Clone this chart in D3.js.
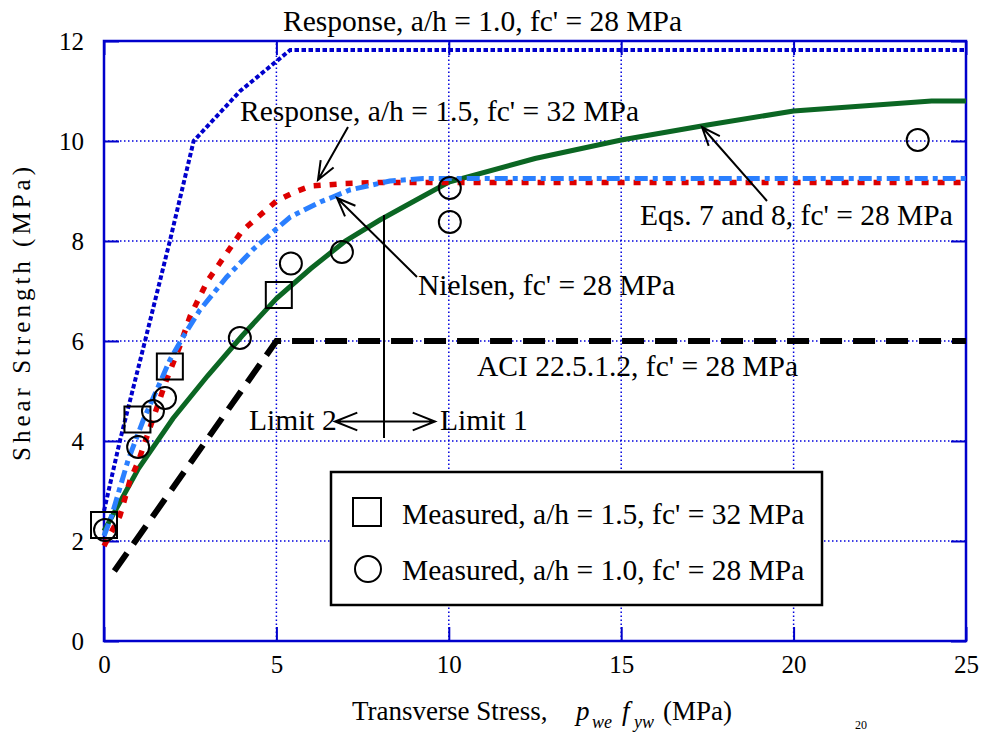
<!DOCTYPE html>
<html>
<head>
<meta charset="utf-8">
<script src="https://cdn.jsdelivr.net/npm/d3@7"></script>
<style>
  body { margin: 0; background: #fff; }
  svg text { font-family: "Liberation Serif", "Times New Roman", serif; fill: #000; }
</style>
</head>
<body>
<div id="chart"></div>
<script>
// series, [transverse stress (MPa), shear strength (MPa)]
const response10 = [[0, 2.6], [0.46, 4], [1.19, 6], [1.91, 8], [2.6, 10], [3.95, 11.0], [5.4, 11.82], [25, 11.82]];
const response15 = [[0, 1.9], [0.46, 2.5], [0.75, 3.2], [1.0, 3.6], [1.3, 4.2], [1.8, 5.2], [2.2, 5.9], [2.5, 6.5],
  [3.0, 7.2], [3.5, 7.7], [4.0, 8.2], [4.5, 8.5], [5.0, 8.8], [5.5, 8.97], [6.0, 9.1], [7.0, 9.15], [8.0, 9.17], [25, 9.17]];
const nielsen = [[0, 2.1], [0.22, 2.5], [0.52, 3.2], [0.7, 3.62], [1.14, 4.42], [1.62, 5.16], [1.91, 5.62], [2.29, 6.08],
  [2.78, 6.62], [3.56, 7.28], [4.35, 7.85], [5.4, 8.48], [6.27, 8.78], [6.6, 8.87], [7.13, 9.02], [8.29, 9.2], [9.25, 9.25], [25, 9.25]];
const eqs78 = [[0, 2.2], [1, 3.45], [2, 4.45], [3, 5.3], [4, 6.1], [5, 6.85], [6, 7.45], [7, 8.0], [8, 8.42], [9, 8.8],
  [10, 9.18], [12.5, 9.65], [15, 10.02], [17.5, 10.32], [20, 10.6], [24, 10.8], [25, 10.8]];
const aci = [[0.3, 1.4], [5, 6], [25, 6]];
const measured15 = [[0, 2.32], [0.97, 4.43], [1.91, 5.49], [5.07, 6.92]];
const measured10 = [[0.03, 2.22], [0.99, 3.88], [1.42, 4.6], [1.77, 4.86], [3.94, 6.06], [5.42, 7.55], [6.9, 7.78],
  [10.03, 9.06], [10.03, 8.38], [23.6, 10.02]];
const xTicks = [0, 5, 10, 15, 20, 25];
const yTicks = [0, 2, 4, 6, 8, 10, 12];

const width = 987, height = 735;
const svg = d3.select("#chart").append("svg")
  .attr("width", width)
  .attr("height", height);

const x = d3.scaleLinear().domain([0, 25]).range([104, 966]);
const y = d3.scaleLinear().domain([0, 12]).range([641, 41]);
const axisBlue = "#0000cc";

// dotted grid
svg.append("g").selectAll("line")
  .data(xTicks.slice(1, -1))
  .enter().append("line")
  .attr("x1", d => x(d)).attr("x2", d => x(d))
  .attr("y1", y(0)).attr("y2", y(12))
  .attr("stroke", "#0000dd").attr("stroke-width", 1.5).attr("stroke-dasharray", "1.5,2.5");
svg.append("g").selectAll("line")
  .data(yTicks.slice(1, -1))
  .enter().append("line")
  .attr("x1", x(0)).attr("x2", x(25))
  .attr("y1", d => y(d)).attr("y2", d => y(d))
  .attr("stroke", "#0000dd").attr("stroke-width", 1.5).attr("stroke-dasharray", "1.5,2.5");

// axes with inward ticks on all four sides
function styleAxis(g) {
  g.select(".domain").remove();
  g.selectAll(".tick line").attr("stroke", axisBlue).attr("stroke-width", 2);
  g.selectAll(".tick text").attr("font-size", 25).attr("fill", "#000")
    .attr("font-family", "Liberation Serif, serif");
}
svg.append("g").attr("transform", `translate(${x(0)},0)`)
  .call(d3.axisLeft(y).tickValues(yTicks).tickSize(-15).tickPadding(20).tickFormat(d3.format("d")))
  .call(styleAxis);
svg.append("g").attr("transform", `translate(${x(25)},0)`)
  .call(d3.axisRight(y).tickValues(yTicks).tickSize(-15).tickFormat(""))
  .call(styleAxis);
svg.append("g").attr("transform", `translate(0,${y(0)})`)
  .call(d3.axisBottom(x).tickValues(xTicks).tickSize(-14).tickPadding(14).tickFormat(d3.format("d")))
  .call(styleAxis);
svg.append("g").attr("transform", `translate(0,${y(12)})`)
  .call(d3.axisTop(x).tickValues(xTicks).tickSize(-14).tickFormat(""))
  .call(styleAxis);

svg.append("rect")
  .attr("x", x(0)).attr("y", y(12))
  .attr("width", x(25) - x(0)).attr("height", y(0) - y(12))
  .attr("fill", "none").attr("stroke", axisBlue).attr("stroke-width", 2.5);

// curves
const line = d3.line().x(d => x(d[0])).y(d => y(d[1]));
function drawSeries(data, color, w, dash) {
  svg.append("path").datum(data)
    .attr("d", line)
    .attr("fill", "none")
    .attr("stroke", color)
    .attr("stroke-width", w)
    .attr("stroke-dasharray", dash);
}
drawSeries(aci, "#000", 6, "22,11");
drawSeries(eqs78, "#0b6623", 5, null);
drawSeries(response15, "#dd0000", 5.5, "7,9");
drawSeries(nielsen, "#2a7fff", 5, "13,5,5,5");
drawSeries(response10, "#0000cc", 4, "4.5,2.5");

// measured points
svg.append("g").selectAll("rect")
  .data(measured15)
  .enter().append("rect")
  .attr("x", d => x(d[0]) - 13).attr("y", d => y(d[1]) - 13)
  .attr("width", 26).attr("height", 26)
  .attr("fill", "none").attr("stroke", "#000").attr("stroke-width", 2);
svg.append("g").selectAll("circle")
  .data(measured10)
  .enter().append("circle")
  .attr("cx", d => x(d[0])).attr("cy", d => y(d[1]))
  .attr("r", 11)
  .attr("fill", "none").attr("stroke", "#000").attr("stroke-width", 2);

// annotations
function label(txt, px, py) {
  svg.append("text").attr("x", px).attr("y", py).attr("font-size", 29.5).text(txt);
}
function arrow(x1, y1, x2, y2, head) {
  const a = Math.atan2(y2 - y1, x2 - x1);
  const len = head || 20, spread = 0.38;
  const p = `M${x1},${y1}L${x2},${y2}` +
    `M${x2 - len * Math.cos(a - spread)},${y2 - len * Math.sin(a - spread)}L${x2},${y2}` +
    `L${x2 - len * Math.cos(a + spread)},${y2 - len * Math.sin(a + spread)}`;
  svg.append("path").attr("d", p).attr("fill", "none").attr("stroke", "#000").attr("stroke-width", 2);
}
label("Response, a/h = 1.0, fc' = 28 MPa", 283, 31);
label("Response, a/h = 1.5, fc' = 32 MPa", 240, 121);
label("Nielsen, fc' = 28 MPa", 418, 295);
label("Eqs. 7 and 8, fc' = 28 MPa", 640, 225);
label("ACI 22.5.1.2, fc' = 28 MPa", 477, 376);
label("Limit 2", 249, 430);
label("Limit 1", 440, 430);

arrow(348, 127, 318, 180);
arrow(417, 277, 337, 198);
arrow(767, 201, 702, 127);
svg.append("line").attr("x1", 384).attr("x2", 384).attr("y1", 215).attr("y2", 438)
  .attr("stroke", "#000").attr("stroke-width", 2);
arrow(384, 421.5, 335, 421.5, 24);
arrow(384, 421.5, 435, 421.5, 24);

// legend
const legend = svg.append("g");
legend.append("rect").attr("x", 331).attr("y", 472).attr("width", 491).attr("height", 133)
  .attr("fill", "#fff").attr("stroke", "#000").attr("stroke-width", 2.5);
legend.append("rect").attr("x", 353).attr("y", 498).attr("width", 28).attr("height", 28)
  .attr("fill", "none").attr("stroke", "#000").attr("stroke-width", 2);
legend.append("circle").attr("cx", 368).attr("cy", 569).attr("r", 13)
  .attr("fill", "none").attr("stroke", "#000").attr("stroke-width", 2);
legend.append("text").attr("x", 402).attr("y", 524).attr("font-size", 29.5).text("Measured, a/h = 1.5, fc' = 32 MPa");
legend.append("text").attr("x", 402).attr("y", 580).attr("font-size", 29.5).text("Measured, a/h = 1.0, fc' = 28 MPa");

// axis titles
const xt = svg.append("text").attr("y", 720).attr("font-size", 27);
xt.append("tspan").attr("x", 352).text("Transverse Stress,");
xt.append("tspan").attr("x", 576).attr("font-style", "italic").text("p");
xt.append("tspan").attr("x", 592).attr("dy", 8).attr("font-size", 18).attr("font-style", "italic").text("we");
xt.append("tspan").attr("x", 622).attr("dy", -8).attr("font-style", "italic").text("f");
xt.append("tspan").attr("x", 634).attr("dy", 8).attr("font-size", 18).attr("font-style", "italic").text("yw");
xt.append("tspan").attr("x", 663).attr("dy", -8).text("(MPa)");

svg.append("text")
  .attr("transform", "translate(30,312) rotate(-90)")
  .attr("text-anchor", "middle")
  .attr("font-size", 25)
  .attr("letter-spacing", 4)
  .text("Shear Strength (MPa)");

// reference number at the page bottom, kept inside the frame
svg.append("text").attr("x", 855).attr("y", 729).attr("font-size", 12).text("20");
</script>
</body>
</html>
